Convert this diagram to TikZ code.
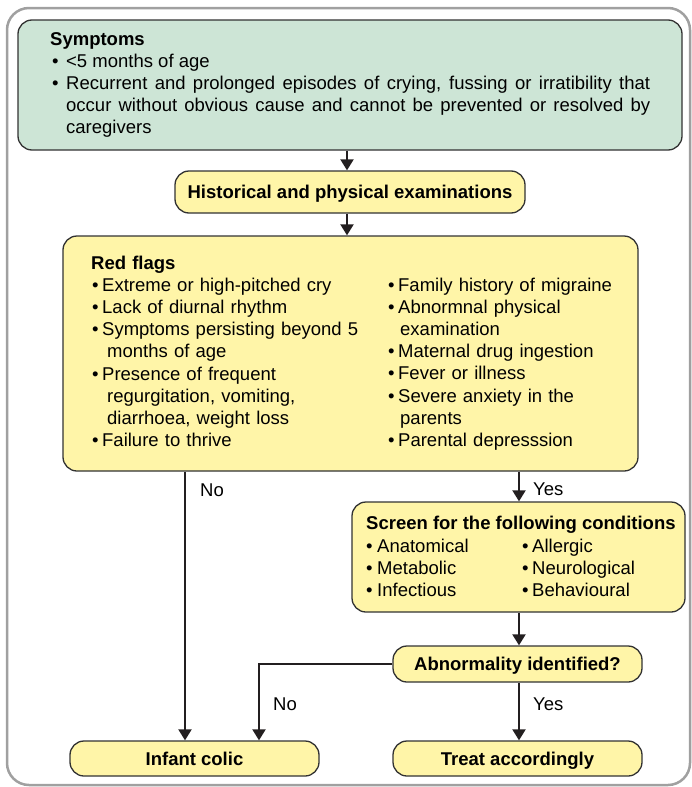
\documentclass[tikz,border=0pt]{standalone}
\usepackage{fontspec}
\setmainfont{Liberation Sans}
\usetikzlibrary{arrows.meta}
\definecolor{boxgreen}{RGB}{205,229,214}
\definecolor{boxyellow}{RGB}{255,245,168}
\definecolor{edgec}{RGB}{50,50,50}
\definecolor{framegray}{RGB}{160,160,160}
\definecolor{arrowc}{RGB}{35,31,32}
\newcommand{\bfirst}[3]{\hangindent=#1\hangafter=1\noindent\makebox[#2][l]{\hspace{#3}\textbullet}}
\newcommand{\bitem}[3]{\par\bfirst{#1}{#2}{#3}}
\begin{document}
\begin{tikzpicture}[x=1pt,y=-1pt,
  txt/.style={font=\fontsize{18.5}{22.2}\selectfont, inner sep=0pt},
  box/.style={draw=edgec, line width=1.3pt, rounded corners=14pt, inner sep=0pt},
  arr/.style={draw=arrowc, line width=2pt, -{Triangle[width=13pt,length=11pt]}},
  lbl/.style={txt, anchor=base west},
  colbox/.style={txt, anchor=base west},
  btxt/.style={font=\fontsize{18.5}{22.2}\selectfont\bfseries, text height=13.3pt, text depth=0pt}
]
\useasboundingbox (0,0) rectangle (692,787);
\draw[framegray, line width=2.5pt, rounded corners=22pt] (7,8) rectangle (690,785);

% boxes
\node[box, fill=boxgreen, minimum width=664pt, minimum height=130pt] (sym) at (350,85) {};
\node[box, fill=boxyellow, minimum width=350pt, minimum height=42pt, btxt] (hist) at (350,192) {Historical and physical examinations};
\node[box, fill=boxyellow, minimum width=575pt, minimum height=235pt] (red) at (350.5,353.5) {};
\node[box, fill=boxyellow, minimum width=333pt, minimum height=110pt] (screen) at (518.5,557) {};
\node[box, fill=boxyellow, minimum width=249pt, minimum height=36pt, btxt] (abn) at (517.5,664) {Abnormality identified?};
\node[box, fill=boxyellow, minimum width=249pt, minimum height=35pt, btxt] (colic) at (194.5,758.5) {Infant colic};
\node[box, fill=boxyellow, minimum width=249pt, minimum height=35pt, btxt] (treat) at (517.5,758.5) {Treat accordingly};

% texts
\node[colbox, text width=600pt, align=justify] (symtxt) at (50,45) {\textbf{Symptoms}%
\bitem{16pt}{16pt}{2pt}<5 months of age%
\bitem{16pt}{16pt}{2pt}Recurrent and prolonged episodes of crying, fussing or irratibility that\linebreak
occur without obvious cause and cannot be prevented or resolved by\linebreak caregivers\par};

\node[colbox, text width=290pt] (redl) at (91,269) {\textbf{Red flags}%
\bitem{16pt}{11pt}{1pt}Extreme or high-pitched cry%
\bitem{16pt}{11pt}{1pt}Lack of diurnal rhythm%
\bitem{16pt}{11pt}{1pt}Symptoms persisting beyond 5\newline months of age%
\bitem{16pt}{11pt}{1pt}Presence of frequent\newline regurgitation, vomiting,\newline diarrhoea, weight loss%
\bitem{16pt}{11pt}{1pt}Failure to thrive\par};

\node[colbox, text width=250pt] (redr) at (388,291) {%
\bfirst{12pt}{10pt}{0pt}Family history of migraine%
\bitem{12pt}{10pt}{0pt}Abnormnal physical\newline examination%
\bitem{12pt}{10pt}{0pt}Maternal drug ingestion%
\bitem{12pt}{10pt}{0pt}Fever or illness%
\bitem{12pt}{10pt}{0pt}Severe anxiety in the\newline parents%
\bitem{12pt}{10pt}{0pt}Parental depresssion\par};

\node[colbox, font=\fontsize{18.5}{22.2}\selectfont\bfseries] (scrhead) at (366,529) {Screen for the following conditions};
\node[colbox, text width=150pt] (scrl) at (366,552) {%
\bfirst{11pt}{11pt}{0pt}Anatomical%
\bitem{11pt}{11pt}{0pt}Metabolic%
\bitem{11pt}{11pt}{0pt}Infectious\par};
\node[colbox, text width=150pt] (scrr) at (522,552) {%
\bfirst{10pt}{10pt}{0pt}Allergic%
\bitem{10pt}{10pt}{0pt}Neurological%
\bitem{10pt}{10pt}{0pt}Behavioural\par};

% connectors
\coordinate (c1) at (347,0);
\coordinate (cNo) at (185,0);
\coordinate (cYes) at (519,0);
\coordinate (cNo2) at (259,0);
\draw[arr] (sym.south -| c1) -- (hist.north -| c1);
\draw[arr] (hist.south -| c1) -- (red.north -| c1);
\draw[arr] (red.south -| cNo) -- (colic.north -| cNo);
\draw[arr] (red.south -| cYes) -- (screen.north -| cYes);
\draw[arr] (screen.south -| cYes) -- (abn.north -| cYes);
\draw[arr] (abn.south -| cYes) -- (treat.north -| cYes);
\draw[arr] (abn.west) -- (abn.west -| cNo2) -- (colic.north -| cNo2);

% labels
\node[lbl] (no1) at (200,496) {No};
\node[lbl] (yes1) at (533,495) {Yes};
\node[lbl] (no2) at (273,710) {No};
\node[lbl] (yes2) at (533,710) {Yes};
\end{tikzpicture}
\end{document}
